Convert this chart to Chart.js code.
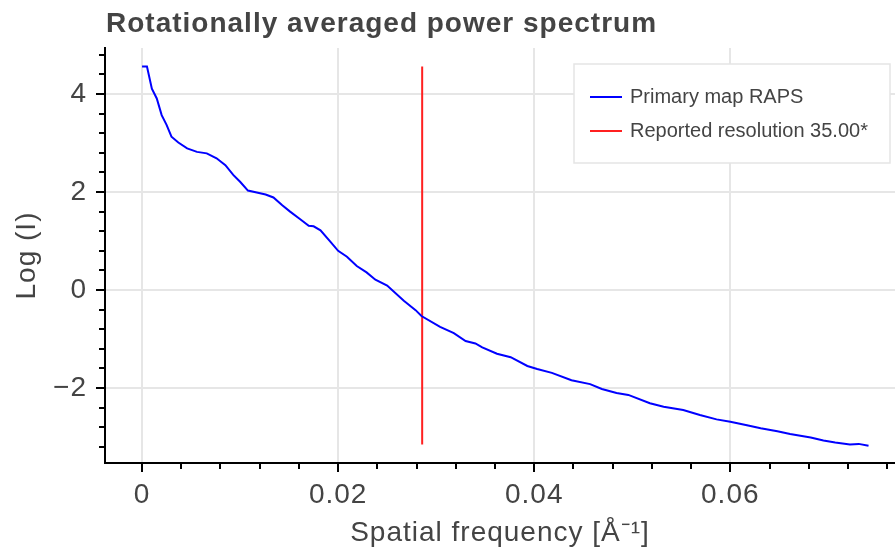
<!DOCTYPE html>
<html>
<head>
<meta charset="utf-8">
<script src="https://cdn.jsdelivr.net/npm/chart.js@4.4.1/dist/chart.umd.min.js"></script>
<style>
  html, body { margin: 0; padding: 0; background: #fff; }
  #wrap { width: 895px; height: 550px; }
</style>
</head>
<body>
<div id="wrap"><canvas id="rapsChart" width="895" height="550"></canvas></div>
<script>
// Datos
const frecuencia = [0, 0.0005, 0.001, 0.0015, 0.002, 0.0025, 0.003, 0.0037, 0.0046, 0.0056,
    0.0066, 0.0076, 0.0085, 0.0093, 0.0100, 0.0108, 0.0117, 0.0126, 0.0134, 0.0143,
    0.0151, 0.0161, 0.0170, 0.0175, 0.0182, 0.0192, 0.0200, 0.0209, 0.0219, 0.0229,
    0.0238, 0.0250, 0.0267, 0.0279, 0.0285, 0.0304, 0.0318, 0.0330, 0.0340, 0.0347,
    0.0362, 0.0376, 0.0393, 0.0403, 0.0418, 0.0438, 0.0457, 0.0469, 0.0484, 0.0496,
    0.0518, 0.0532, 0.0552, 0.0569, 0.0586, 0.0600, 0.0617, 0.0631, 0.0648, 0.0661,
    0.0682, 0.0695, 0.0707, 0.0722, 0.0731, 0.0741];
const logI = [4.56, 4.56, 4.11, 3.91, 3.57, 3.37, 3.13, 3.01, 2.89, 2.82,
    2.79, 2.69, 2.55, 2.35, 2.21, 2.03, 1.99, 1.95, 1.89, 1.73,
    1.60, 1.45, 1.31, 1.30, 1.22, 0.99, 0.80, 0.68, 0.49, 0.36,
    0.21, 0.09, -0.22, -0.41, -0.53, -0.75, -0.88, -1.04, -1.09, -1.17,
    -1.30, -1.37, -1.55, -1.61, -1.69, -1.84, -1.92, -2.02, -2.10, -2.14,
    -2.31, -2.38, -2.45, -2.55, -2.64, -2.69, -2.76, -2.82, -2.88, -2.94,
    -3.01, -3.07, -3.11, -3.15, -3.14, -3.18];

// Resolucion reportada (35.00 A) como linea vertical
const resolucionX = [1 / 35, 1 / 35];
const resolucionY = [-3.15, 4.56];

const etiquetas = ['Primary map RAPS', 'Reported resolution 35.00*'];
const colores = ['#0000ff', '#ff2020'];

const ejeX = { min: -0.00378, max: 0.0768, paso: 0.02, menor: 0.004 };
const ejeY = { min: -3.53, max: 4.94, paso: 2, menor: 0.4 };

const FUENTE = '"Liberation Sans", Arial, Helvetica, sans-serif';
const GRIS = '#444444';

// Plugin para titulo, marcas de ejes y leyenda (estilo bokeh)
const decoracion = {
    id: 'decoracion',
    beforeDraw(chart) {
        // el texto de la figura original es algo mas ancho
        chart.ctx.letterSpacing = '1px';
    },
    afterDraw(chart) {
        const ctx = chart.ctx;
        const xs = chart.scales.x;
        const ys = chart.scales.y;
        const area = chart.chartArea;
        ctx.save();

        // Titulo
        ctx.fillStyle = GRIS;
        ctx.font = 'bold 28px ' + FUENTE;
        ctx.textAlign = 'left';
        ctx.textBaseline = 'alphabetic';
        ctx.fillText('Rotationally averaged power spectrum', 106, 32);

        // Marcas del eje x
        ctx.strokeStyle = '#000';
        ctx.lineWidth = 2;
        const inicioX = Math.ceil(ejeX.min / ejeX.menor) * ejeX.menor;
        for (let v = inicioX; v <= ejeX.max + 1e-9; v += ejeX.menor) {
            const mayor = Math.abs(v / ejeX.paso - Math.round(v / ejeX.paso)) < 1e-6;
            const px = Math.round(xs.getPixelForValue(v));
            ctx.beginPath();
            ctx.moveTo(px, area.bottom);
            ctx.lineTo(px, area.bottom + (mayor ? 9 : 6));
            ctx.stroke();
        }
        // Marcas del eje y
        const inicioY = Math.ceil(ejeY.min / ejeY.menor) * ejeY.menor;
        for (let v = inicioY; v <= ejeY.max + 1e-9; v += ejeY.menor) {
            const mayor = Math.abs(v / ejeY.paso - Math.round(v / ejeY.paso)) < 1e-6;
            const py = Math.round(ys.getPixelForValue(v));
            ctx.beginPath();
            ctx.moveTo(area.left, py);
            ctx.lineTo(area.left - (mayor ? 9 : 6), py);
            ctx.stroke();
        }

        // Leyenda
        const caja = { x: 574, y: 64, w: 316, h: 99 };
        ctx.fillStyle = '#fff';
        ctx.fillRect(caja.x, caja.y, caja.w, caja.h);
        ctx.strokeStyle = '#e5e5e5';
        ctx.lineWidth = 1.5;
        ctx.strokeRect(caja.x, caja.y, caja.w, caja.h);
        ctx.letterSpacing = '0px';
        ctx.font = '20px ' + FUENTE;
        ctx.textBaseline = 'middle';
        chart.data.datasets.forEach((ds, i) => {
            const y = 97 + i * 34;
            ctx.strokeStyle = ds.borderColor;
            ctx.lineWidth = 2;
            ctx.beginPath();
            ctx.moveTo(590, y);
            ctx.lineTo(622, y);
            ctx.stroke();
            ctx.fillStyle = GRIS;
            ctx.fillText(ds.label, 630, y);
        });
        ctx.restore();
    }
};

const ctx = document.getElementById('rapsChart').getContext('2d');
new Chart(ctx, {
    type: 'line',
    data: {
        datasets: [{
            label: etiquetas[0],
            data: frecuencia.map((f, i) => ({ x: f, y: logI[i] })),
            borderColor: colores[0],
            borderWidth: 2,
            pointRadius: 0,
            tension: 0,
            fill: false
        }, {
            label: etiquetas[1],
            data: resolucionX.map((f, i) => ({ x: f, y: resolucionY[i] })),
            borderColor: colores[1],
            borderWidth: 2,
            pointRadius: 0,
            fill: false
        }]
    },
    options: {
        responsive: false,
        animation: false,
        devicePixelRatio: 1,
        layout: { padding: { top: 48, right: 0, left: 0, bottom: 0 } },
        plugins: {
            legend: { display: false },
            title: { display: false },
            tooltip: { enabled: false }
        },
        scales: {
            x: {
                type: 'linear',
                min: ejeX.min,
                max: ejeX.max,
                afterFit: s => { s.height = 87; },
                grid: { color: '#e6e6e6', lineWidth: 2, drawTicks: false },
                border: { display: true, color: '#000', width: 2 },
                ticks: {
                    stepSize: ejeX.paso,
                    includeBounds: false,
                    color: GRIS,
                    padding: 15,
                    maxRotation: 0,
                    font: { family: FUENTE, size: 28 }
                },
                title: {
                    display: true,
                    text: 'Spatial frequency [Å⁻¹]',
                    color: GRIS,
                    font: { family: FUENTE, size: 28 },
                    padding: { top: 0, bottom: 0 }
                }
            },
            y: {
                type: 'linear',
                min: ejeY.min,
                max: ejeY.max,
                afterFit: s => { s.width = 105; },
                grid: { color: '#e6e6e6', lineWidth: 2, drawTicks: false },
                border: { display: true, color: '#000', width: 2 },
                ticks: {
                    stepSize: ejeY.paso,
                    includeBounds: false,
                    color: GRIS,
                    padding: 18,
                    font: { family: FUENTE, size: 28 },
                    callback: v => (v < 0 ? '\u2212' + Math.abs(v) : String(v))
                },
                title: {
                    display: true,
                    text: 'Log (I)',
                    color: GRIS,
                    font: { family: FUENTE, size: 28 },
                    padding: { top: 10, bottom: 0 }
                }
            }
        }
    },
    plugins: [decoracion]
});
</script>
</body>
</html>
